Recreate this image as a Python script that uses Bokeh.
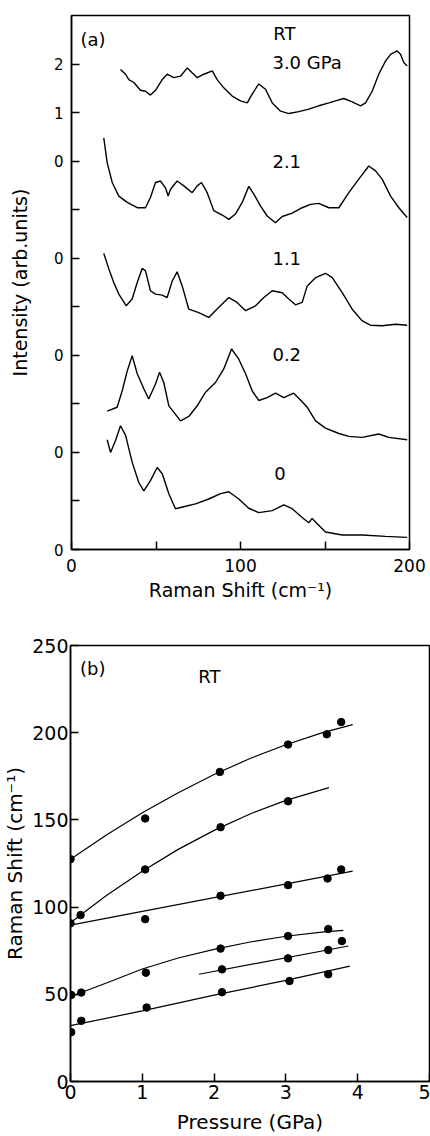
from bokeh.plotting import figure
from bokeh.models import Range1d, FixedTicker, Label
from bokeh.embed import file_html
from bokeh.resources import INLINE

FONT = "DejaVu Sans"

# ---------------- Panel (a): Raman spectra (stacked, offset units) ----------------
spec_30_x = [29.0, 32.0, 33.9, 36.9, 40.8, 43.8, 46.7, 49.7, 53.7, 56.6, 60.5, 64.5, 68.5, 71.4, 74.4,
             78.3, 83.3, 86.2, 90.1, 95.1, 100.0, 104.0, 106.9, 110.8, 114.8, 118.8, 123.7, 128.6,
             134.5, 140.4, 146.3, 152.3, 156.2, 161.1, 166.1, 171.0, 174.0, 177.9, 181.8, 185.8,
             188.8, 192.7, 194.7, 196.6, 198.6]
spec_30_y = [9.89, 9.79, 9.68, 9.62, 9.46, 9.44, 9.36, 9.46, 9.68, 9.79, 9.72, 9.75, 9.92, 9.82, 9.72,
             9.79, 9.86, 9.68, 9.51, 9.34, 9.24, 9.20, 9.38, 9.59, 9.48, 9.20, 9.03, 8.98,
             9.02, 9.07, 9.14, 9.20, 9.24, 9.29, 9.22, 9.14, 9.20, 9.44, 9.79, 10.06,
             10.20, 10.27, 10.20, 10.03, 9.96]

spec_21_x = [19.1, 21.1, 24.1, 28.0, 33.0, 38.9, 43.8, 46.7, 49.7, 52.7, 55.6, 57.2, 58.6, 62.5, 66.5,
             71.4, 74.4, 76.9, 80.3, 84.2, 89.2, 93.1, 97.0, 101.0, 104.9, 107.9, 111.8, 115.8,
             120.7, 124.7, 130.6, 136.5, 141.4, 146.3, 152.3, 158.2, 164.1, 170.0, 175.9, 179.9,
             183.8, 188.8, 193.7, 198.6]
spec_21_y = [8.48, 7.97, 7.56, 7.28, 7.15, 7.04, 7.04, 7.25, 7.56, 7.59, 7.45, 7.28, 7.42, 7.59, 7.49,
             7.35, 7.49, 7.56, 7.35, 6.98, 6.89, 6.80, 6.91, 7.15, 7.48, 7.32, 7.08, 6.87,
             6.73, 6.86, 6.93, 7.04, 7.11, 7.13, 7.04, 7.04, 7.35, 7.63, 7.90, 7.80,
             7.63, 7.28, 7.04, 6.84]

spec_11_x = [19.1, 22.1, 25.0, 28.0, 32.4, 35.9, 38.9, 41.8, 43.8, 46.7, 49.7, 53.7, 56.6, 59.6, 62.5,
             65.5, 69.4, 75.3, 81.2, 87.2, 93.1, 98.0, 103.0, 108.9, 113.8, 118.8, 124.7, 128.6,
             132.5, 136.5, 139.5, 144.4, 150.3, 154.3, 160.2, 166.1, 172.0, 176.9, 183.8, 191.7, 198.6]
spec_11_y = [6.10, 5.78, 5.50, 5.26, 5.02, 5.16, 5.50, 5.79, 5.74, 5.33, 5.26, 5.24, 5.19, 5.53, 5.72,
             5.43, 4.95, 4.88, 4.78, 4.99, 5.19, 5.09, 4.92, 5.02, 5.19, 5.33, 5.29, 5.16,
             5.04, 5.09, 5.43, 5.60, 5.69, 5.60, 5.29, 4.95, 4.71, 4.62, 4.61, 4.64, 4.62]

spec_02_x = [21.1, 27.0, 30.0, 33.0, 35.9, 38.9, 42.8, 45.7, 49.7, 52.1, 54.6, 57.6, 60.5, 64.5, 69.4,
             74.4, 79.3, 85.2, 90.1, 94.7, 99.0, 103.0, 106.9, 110.8, 115.8, 120.7, 125.6, 131.5,
             135.5, 139.5, 144.4, 150.3, 158.2, 164.1, 172.0, 181.8, 187.8, 198.6]
spec_02_y = [2.85, 2.93, 3.27, 3.68, 3.99, 3.62, 3.31, 3.10, 3.41, 3.65, 3.44, 2.96, 2.83, 2.65, 2.74,
             2.96, 3.24, 3.44, 3.72, 4.13, 3.92, 3.62, 3.27, 3.07, 3.13, 3.22, 3.13, 3.22,
             3.08, 2.93, 2.65, 2.50, 2.39, 2.33, 2.31, 2.38, 2.31, 2.26]

spec_00_x = [21.1, 23.1, 26.0, 29.0, 32.0, 35.9, 39.8, 42.8, 46.7, 50.7, 53.7, 57.6, 61.5, 67.5, 73.4,
             81.2, 88.2, 93.1, 99.0, 104.9, 110.8, 118.8, 125.6, 130.6, 136.5, 140.4, 142.4, 145.4,
             150.3, 160.2, 172.0, 185.8, 198.6]
spec_00_y = [2.26, 2.00, 2.24, 2.55, 2.35, 1.80, 1.38, 1.21, 1.42, 1.69, 1.56, 1.15, 0.84, 0.89, 0.94,
             1.04, 1.15, 1.19, 1.04, 0.85, 0.76, 0.80, 0.92, 0.84, 0.66, 0.55, 0.64, 0.53,
             0.36, 0.30, 0.30, 0.27, 0.25]

a_xticks = [0, 50, 100, 150, 200]
a_xlabels = {0: "0", 50: "", 100: "100", 150: "", 200: "200"}
a_yticks = [0, 1, 2, 3, 4, 5, 6, 7, 8, 9, 10]
a_ylabels = {0: "0", 1: "", 2: "0", 3: "", 4: "0", 5: "", 6: "0", 7: "", 8: "0", 9: "1", 10: "2"}

# ---------------- Panel (b): Raman shift vs pressure ----------------
b1_p = [0.0, 1.04, 2.08, 3.03, 3.57, 3.77]
b1_s = [127.5, 150.8, 177.5, 193.2, 199.1, 206.1]
b2_p = [0.14, 1.04, 2.09, 3.03]
b2_s = [95.4, 121.6, 145.8, 160.7]
b3_p = [0.0, 1.04, 2.09, 3.03, 3.58, 3.77]
b3_s = [90.7, 93.1, 106.5, 112.6, 116.4, 121.6]
b4_p = [0.01, 0.15, 1.05, 2.09, 3.03, 3.59, 3.78]
b4_s = [49.6, 51.0, 62.4, 76.2, 83.4, 87.4, 80.5]
b5_p = [2.11, 3.03, 3.59]
b5_s = [64.3, 70.6, 75.4]
b6_p = [0.01, 0.15, 1.06, 2.11, 3.05, 3.59]
b6_s = [28.3, 34.8, 42.4, 51.2, 57.6, 61.5]

f1_p = [0.0, 0.5, 1.0, 1.5, 2.0, 2.5, 3.0, 3.5, 3.93]
f1_s = [127.5, 141.4, 154.1, 165.6, 176.0, 185.2, 193.1, 199.9, 204.6]
f2_p = [0.0, 0.14, 0.5, 1.0, 1.5, 2.0, 2.5, 3.0, 3.6]
f2_s = [91.0, 95.5, 106.6, 120.6, 133.1, 144.0, 153.4, 161.2, 168.5]
f3_p = [0.0, 3.93]
f3_s = [89.7, 120.6]
f4_p = [0.0, 0.15, 0.5, 1.0, 1.5, 2.0, 2.5, 3.0, 3.5, 3.8]
f4_s = [48.5, 51.0, 56.5, 64.5, 70.8, 75.8, 80.0, 83.3, 85.6, 86.7]
f5_p = [1.79, 3.87]
f5_s = [61.5, 77.7]
f6_p = [0.0, 1.0, 2.0, 3.0, 3.89]
f6_s = [32.0, 40.5, 49.5, 58.0, 66.2]

b_xticks = [0, 1, 2, 3, 4, 5]
b_yticks = [0, 50, 100, 150, 200, 250]


def style(p, tick_size, label_size):
    p.outline_line_color = "black"
    p.outline_line_width = 1.5
    p.xgrid.grid_line_color = None
    p.ygrid.grid_line_color = None
    p.background_fill_color = "white"
    p.border_fill_color = "white"
    for ax in (p.xaxis[0], p.yaxis[0]):
        ax.axis_line_color = "black"
        ax.axis_line_width = 1.5
        ax.major_tick_in = 8
        ax.major_tick_out = 0
        ax.major_tick_line_width = 1.5
        ax.minor_tick_line_color = None
        ax.major_label_text_font = FONT
        ax.major_label_text_color = "black"
        ax.major_label_text_font_size = tick_size
        ax.axis_label_text_font = FONT
        ax.axis_label_text_font_style = "normal"
        ax.axis_label_text_color = "black"
        ax.axis_label_text_font_size = label_size


# ----- figure (a) -----
pa = figure(width=430, height=610, output_backend="svg", toolbar_location=None,
            x_range=Range1d(0, 200), y_range=Range1d(0, 11),
            min_border_left=71, min_border_right=21, min_border_top=15, min_border_bottom=61)
style(pa, "17px", "19px")
pa.yaxis[0].major_label_text_font_size = "15px"
pa.xaxis[0].ticker = FixedTicker(ticks=a_xticks)
pa.xaxis[0].major_label_overrides = a_xlabels
pa.yaxis[0].ticker = FixedTicker(ticks=a_yticks)
pa.yaxis[0].major_label_overrides = a_ylabels
pa.xaxis[0].axis_label = "Raman Shift (cm\u207b\u00b9)"
pa.yaxis[0].axis_label = "Intensity (arb.units)"
pa.xaxis[0].major_label_standoff = 9
pa.xaxis[0].axis_label_standoff = 4
pa.yaxis[0].major_label_standoff = 8
pa.yaxis[0].axis_label_standoff = 20

for xs, ys in [(spec_30_x, spec_30_y), (spec_21_x, spec_21_y), (spec_11_x, spec_11_y),
               (spec_02_x, spec_02_y), (spec_00_x, spec_00_y)]:
    pa.line(xs, ys, line_color="black", line_width=1.4)

txt = dict(text_font=FONT, text_font_size="18px", text_color="black", text_baseline="middle")
pa.add_layout(Label(x=12.7, y=10.5, text="(a)", text_align="center", **txt))
pa.add_layout(Label(x=126, y=10.62, text="RT", text_align="center", **txt))
pa.add_layout(Label(x=118.9, y=10.03, text="3.0  GPa", text_align="left", **txt))
pa.add_layout(Label(x=118.9, y=8.0, text="2.1", text_align="left", **txt))
pa.add_layout(Label(x=118.9, y=6.0, text="1.1", text_align="left", **txt))
pa.add_layout(Label(x=118.9, y=4.01, text="0.2", text_align="left", **txt))
pa.add_layout(Label(x=120.0, y=1.56, text="0", text_align="left", **txt))

# ----- figure (b) -----
pb = figure(width=430, height=526, output_backend="svg", toolbar_location=None,
            x_range=Range1d(0, 5), y_range=Range1d(0, 250),
            min_border_left=67, min_border_right=1, min_border_top=35, min_border_bottom=54)
style(pb, "19px", "20px")
pb.xaxis[0].ticker = FixedTicker(ticks=b_xticks)
pb.yaxis[0].ticker = FixedTicker(ticks=b_yticks)
pb.xaxis[0].axis_label = "Pressure (GPa)"
pb.yaxis[0].axis_label = "Raman Shift (cm\u207b\u00b9)"
pb.xaxis[0].major_label_standoff = 3
pb.xaxis[0].axis_label_standoff = 8
pb.yaxis[0].major_label_standoff = 2
pb.yaxis[0].axis_label_standoff = 2

for xs, ys in [(f1_p, f1_s), (f2_p, f2_s), (f3_p, f3_s), (f4_p, f4_s), (f5_p, f5_s), (f6_p, f6_s)]:
    pb.line(xs, ys, line_color="black", line_width=1.2)
for xs, ys in [(b1_p, b1_s), (b2_p, b2_s), (b3_p, b3_s), (b4_p, b4_s), (b5_p, b5_s), (b6_p, b6_s)]:
    pb.scatter(xs, ys, size=7.5, marker="circle", fill_color="black", line_color="black")

txtb = dict(text_font=FONT, text_font_size="18px", text_color="black", text_baseline="middle",
            text_align="center")
pb.add_layout(Label(x=0.31, y=236.8, text="(b)", **txtb))
pb.add_layout(Label(x=1.935, y=232.0, text="RT", **txtb))

open("out.html", "w").write(file_html([pa, pb], INLINE))
